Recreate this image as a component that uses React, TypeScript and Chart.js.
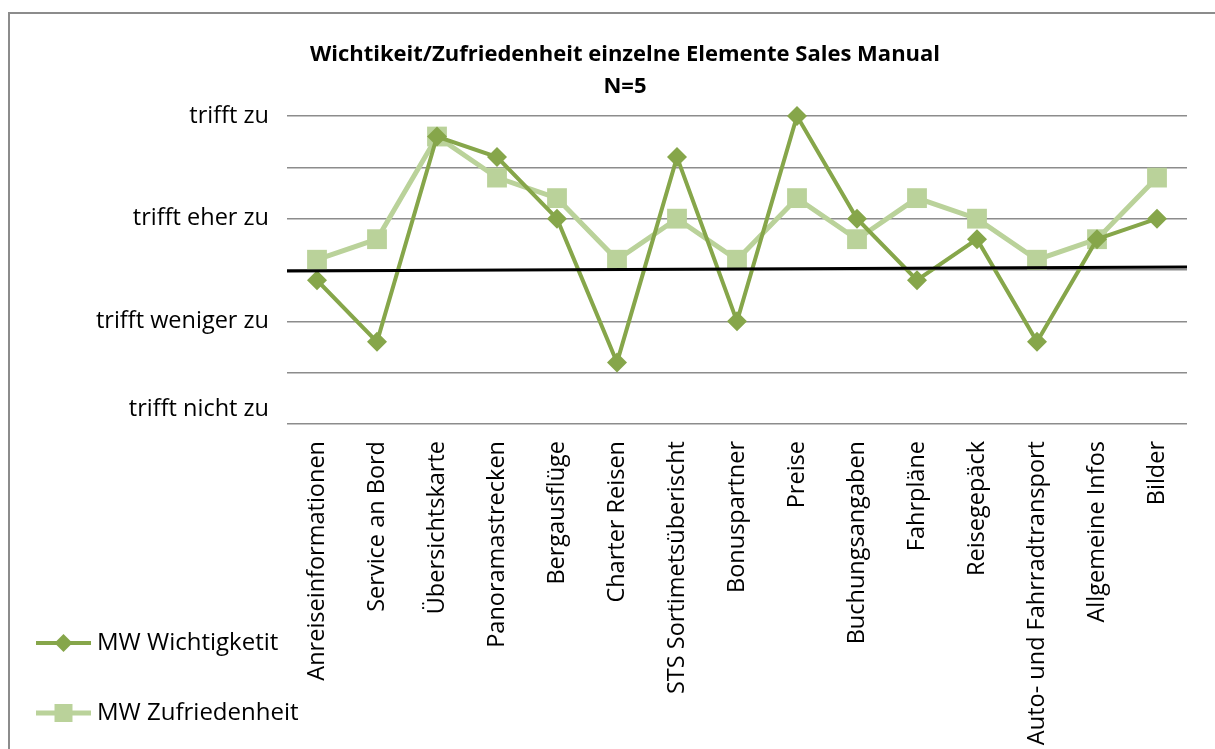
import React, { useEffect, useRef } from 'react';
import { Chart, registerables } from 'chart.js';

Chart.register(...registerables);

const categories = [
  'Anreiseinformationen',
  'Service an Bord',
  'Übersichtskarte',
  'Panoramastrecken',
  'Bergausflüge',
  'Charter Reisen',
  'STS Sortimetsüberischt',
  'Bonuspartner',
  'Preise',
  'Buchungsangaben',
  'Fahrpläne',
  'Reisegepäck',
  'Auto- und Fahrradtransport',
  'Allgemeine Infos',
  'Bilder',
];

const wichtigkeit = [2.4, 1.8, 3.8, 3.6, 3.0, 1.6, 3.6, 2.0, 4.0, 3.0, 2.4, 2.8, 1.8, 2.8, 3.0];
const zufriedenheit = [2.6, 2.8, 3.8, 3.4, 3.2, 2.6, 3.0, 2.6, 3.2, 2.8, 3.2, 3.0, 2.6, 2.8, 3.4];

const seriesNames = ['MW Wichtigketit', 'MW Zufriedenheit'];
const titleLines = ['Wichtikeit/Zufriedenheit einzelne Elemente Sales Manual', 'N=5'];

const yTickValues = [4, 3, 2, 1];
const yTickLabels = ['trifft zu', 'trifft eher zu', 'trifft weniger zu', 'trifft nicht zu'];

// reference line (start value, end value)
const referenceLine = [2.49, 2.53];

const FONT = '"Open Sans", sans-serif';
const LABEL_SIZE = 23.5;
const DARK = '#86A64A';
const LIGHT = '#BAD29A';
const GRID = '#8C8C8C';

const refLinePlugin = {
  id: 'refLine',
  afterDatasetsDraw(chart: any) {
    const { ctx, chartArea, scales } = chart;
    const y0 = scales.y.getPixelForValue(referenceLine[0]);
    const y1 = scales.y.getPixelForValue(referenceLine[1]);
    ctx.save();
    ctx.strokeStyle = '#000000';
    ctx.lineWidth = 3;
    ctx.beginPath();
    ctx.moveTo(chartArea.left, y0);
    ctx.lineTo(chartArea.right, y1);
    ctx.stroke();
    ctx.restore();
  },
};

const legendPlugin = {
  id: 'sideLegend',
  afterDraw(chart: any) {
    const { ctx } = chart;
    const startX = 26;
    const endX = 81;
    const midX = (startX + endX) / 2;
    const rows = [629, 699];
    chart.data.datasets.forEach((ds: any, i: number) => {
      const y = rows[i];
      ctx.save();
      ctx.strokeStyle = ds.borderColor;
      ctx.lineWidth = ds.borderWidth;
      ctx.beginPath();
      ctx.moveTo(startX, y);
      ctx.lineTo(endX, y);
      ctx.stroke();
      ctx.fillStyle = ds.pointBackgroundColor;
      ctx.beginPath();
      if (ds.pointStyle === 'rectRot') {
        const r = 9;
        ctx.moveTo(midX, y - r);
        ctx.lineTo(midX + r, y);
        ctx.lineTo(midX, y + r);
        ctx.lineTo(midX - r, y);
        ctx.closePath();
      } else {
        const s = 9;
        ctx.rect(midX - s, y - s, 2 * s, 2 * s);
      }
      ctx.fill();
      ctx.fillStyle = '#000000';
      ctx.font = `24px ${FONT}`;
      ctx.textAlign = 'left';
      ctx.textBaseline = 'middle';
      ctx.fillText(ds.label, 87, y);
      ctx.restore();
    });
  },
};

export default function App() {
  const canvasRef = useRef<HTMLCanvasElement | null>(null);

  useEffect(() => {
    if (!canvasRef.current) return;
    const chart = new Chart(canvasRef.current, {
      type: 'line',
      data: {
        labels: categories,
        datasets: [
          {
            label: seriesNames[0],
            data: wichtigkeit,
            borderColor: DARK,
            backgroundColor: DARK,
            pointBackgroundColor: DARK,
            pointBorderColor: DARK,
            borderWidth: 4,
            pointStyle: 'rectRot',
            pointRadius: 10,
            pointBorderWidth: 0,
            tension: 0,
            clip: false,
            order: 1,
          },
          {
            label: seriesNames[1],
            data: zufriedenheit,
            borderColor: LIGHT,
            backgroundColor: LIGHT,
            pointBackgroundColor: LIGHT,
            pointBorderColor: LIGHT,
            borderWidth: 5,
            pointStyle: 'rect',
            pointRadius: 14,
            pointBorderWidth: 0,
            tension: 0,
            clip: false,
            order: 2,
          },
        ],
      },
      options: {
        responsive: false,
        animation: false,
        layout: { padding: { left: 53, right: 28, top: 0, bottom: 0 } },
        plugins: {
          legend: { display: false },
          tooltip: { enabled: false },
          title: {
            display: true,
            text: titleLines,
            color: '#000000',
            font: { family: FONT, size: 22, weight: 'bold', lineHeight: '32px' },
            padding: { top: 25, bottom: 13 },
          },
        },
        scales: {
          x: {
            offset: true,
            grid: { display: false, drawTicks: false, offset: true },
            border: { display: false },
            ticks: {
              autoSkip: false,
              maxRotation: 90,
              minRotation: 90,
              padding: 17,
              color: '#000000',
              font: { family: FONT, size: LABEL_SIZE },
            },
            afterFit(scale: any) {
              scale.height = 325;
            },
          },
          y: {
            min: 1,
            max: 4,
            grid: { color: GRID, lineWidth: 1.5, drawTicks: false },
            border: { display: false },
            ticks: {
              stepSize: 0.5,
              autoSkip: false,
              padding: 18,
              color: '#000000',
              font: (ctx: any) => {
                const v = ctx.tick ? ctx.tick.value : null;
                return {
                  family: FONT,
                  size: LABEL_SIZE,
                  lineHeight: v === 1 ? '30px' : 1.2,
                };
              },
              callback: (value: any) => {
                const idx = yTickValues.indexOf(Number(value));
                if (idx < 0) return '';
                if (Number(value) === 1) return [yTickLabels[idx], ''];
                return yTickLabels[idx];
              },
            },
            afterFit(scale: any) {
              scale.width = 224;
            },
          },
        },
      },
      plugins: [refLinePlugin, legendPlugin],
    });
    return () => chart.destroy();
  }, []);

  return (
    <div
      style={{
        position: 'fixed',
        left: 8,
        top: 12,
        borderLeft: '2px solid #8C8C8C',
        borderTop: '2px solid #8C8C8C',
        background: '#ffffff',
      }}
    >
      <canvas
        ref={canvasRef}
        width={1205}
        height={735}
        style={{ display: 'block', width: 1205, height: 735 }}
      />
    </div>
  );
}
